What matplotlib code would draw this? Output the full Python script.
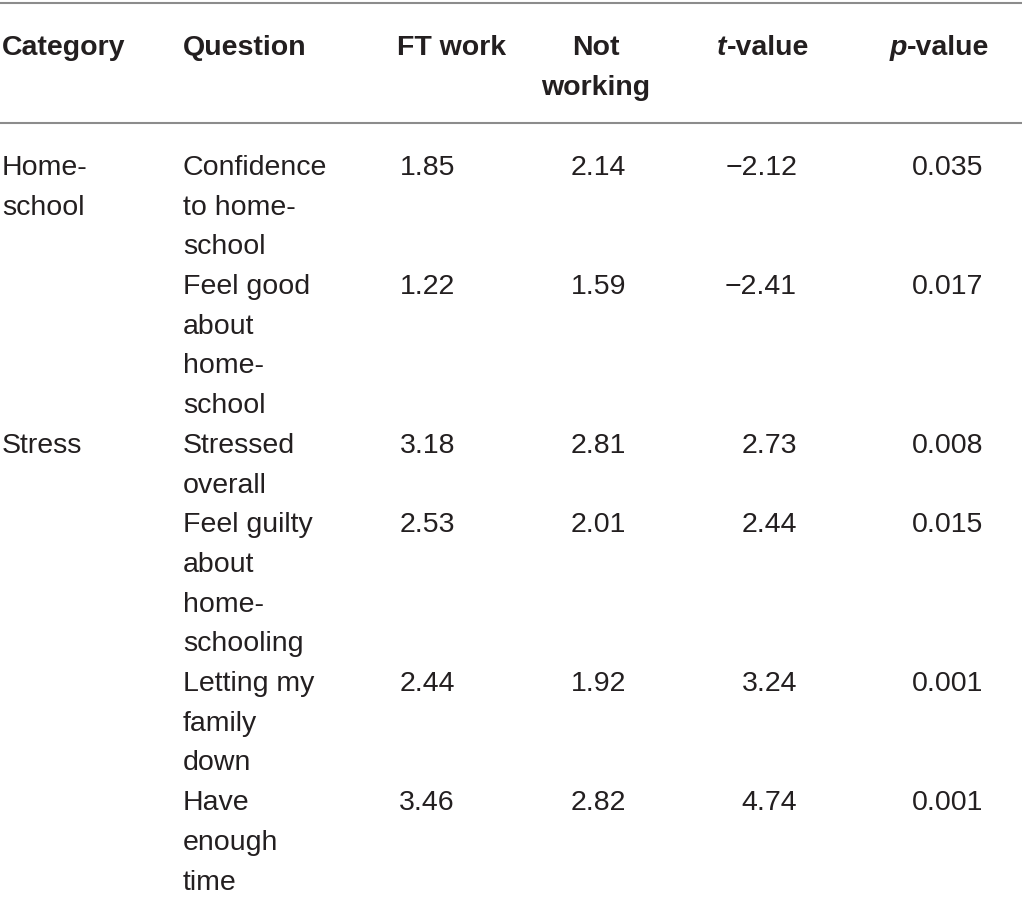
import matplotlib.pyplot as plt

plt.rcParams['font.family'] = ['Liberation Sans', 'DejaVu Sans']

categories = ["Home-\nschool", "", "Stress", "", "", ""]
questions = [
    "Confidence\nto home-\nschool",
    "Feel good\nabout\nhome-\nschool",
    "Stressed\noverall",
    "Feel guilty\nabout\nhome-\nschooling",
    "Letting my\nfamily\ndown",
    "Have\nenough\ntime",
]
ft_work = ["1.85", "1.22", "3.18", "2.53", "2.44", "3.46"]
not_working = ["2.14", "1.59", "2.81", "2.01", "1.92", "2.82"]
t_values = ["\u22122.12", "\u22122.41", "2.73", "2.44", "3.24", "4.74"]
p_values = ["0.035", "0.017", "0.008", "0.015", "0.001", "0.001"]

W, H = 1022, 903
fig = plt.figure(figsize=(W / 100, H / 100), dpi=100)
ax = fig.add_axes([0, 0, 1, 1])
ax.set_xlim(0, W)
ax.set_ylim(H, 0)
ax.axis('off')

fs = 20.5
lh = 39.7
col = '#231f20'
line_col = '#8c8c8c'

# rules
ax.hlines([4, 124], 0, W, color=line_col, lw=1.5)

# header
hy = 48
kw = dict(fontsize=fs, fontweight='bold', color=col, va='center')
ax.text(2, hy, "Category", ha='left', **kw)
ax.text(183, hy, "Question", ha='left', **kw)
ax.text(397, hy, "FT work", ha='left', **kw)
ax.text(596, hy, "Not", ha='center', **kw)
ax.text(596, hy + lh, "working", ha='center', **kw)
fig.canvas.draw()
r = fig.canvas.get_renderer()
for x0, letter in [(717, "t"), (890, "p")]:
    t = ax.text(x0, hy, letter, style='italic', ha='left', **kw)
    bb = t.get_window_extent(r)
    x1 = ax.transData.inverted().transform((bb.x1, bb.y0))[0]
    ax.text(x1, hy, "-value", ha='left', **kw)

# body
y = 168
for cat, q, a, b, tv, pv in zip(categories, questions, ft_work, not_working, t_values, p_values):
    clines = cat.split("\n")
    qlines = q.split("\n")
    for i, line in enumerate(clines):
        if line:
            ax.text(2, y + i * lh, line, fontsize=fs, color=col, ha='left', va='center')
    for i, line in enumerate(qlines):
        ax.text(183, y + i * lh, line, fontsize=fs, color=col, ha='left', va='center')
    ax.text(455, y, a, fontsize=fs, color=col, ha='right', va='center')
    ax.text(626, y, b, fontsize=fs, color=col, ha='right', va='center')
    ax.text(797, y, tv, fontsize=fs, color=col, ha='right', va='center')
    ax.text(983, y, pv, fontsize=fs, color=col, ha='right', va='center')
    y += max(len(qlines), len(clines)) * lh

fig.savefig("out.png", dpi=100)
plt.close()
